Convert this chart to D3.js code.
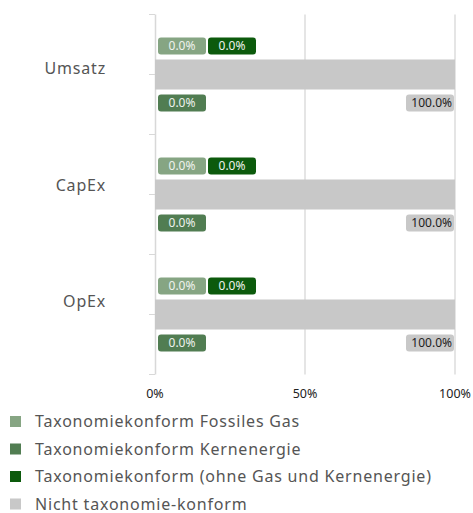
<!DOCTYPE html>
<html>
<head>
<meta charset="utf-8">
<script src="https://cdn.jsdelivr.net/npm/d3@7"></script>
<style>
  body { margin: 0; background: #fff; }
  svg { display: block; font-family: "Noto Sans", "Open Sans", sans-serif; }
</style>
</head>
<body>
<div id="chart"></div>
<script>
var categories = ["Umsatz", "CapEx", "OpEx"];
var fossilGas = [0, 0, 0];
var nuclear = [0, 0, 0];
var aligned = [0, 0, 0];
var notAligned = [100, 100, 100];
var xTicks = [0, 50, 100];
var seriesNames = [
  "Taxonomiekonform Fossiles Gas",
  "Taxonomiekonform Kernenergie",
  "Taxonomiekonform (ohne Gas und Kernenergie)",
  "Nicht taxonomie-konform"
];
var colors = ["#86a583", "#517d52", "#0c5a0c", "#c8c8c8"];

var w = 473, h = 513;
var svg = d3.select('#chart').append('svg').attr('width', w).attr('height', h);

var xScale = d3.scaleLinear().domain([0, 100]).range([155, 455]);
var yScale = d3.scaleBand().domain(categories).range([14.5, 374.5]);
// category labels sit a little above the band centres
var labelScale = d3.scalePoint().domain(categories).range([74, 307]);

// grid lines
svg.append('g').selectAll('line')
  .data(xTicks.slice(1))
  .enter().append('line')
  .attr('x1', function (d) { return xScale(d); })
  .attr('x2', function (d) { return xScale(d); })
  .attr('y1', 14.5).attr('y2', 374.5)
  .attr('stroke', '#dcdcdc').attr('stroke-width', 1.5);

// y axis line and ticks
svg.append('line')
  .attr('x1', 155.5).attr('x2', 155.5).attr('y1', 14.5).attr('y2', 374.5)
  .attr('stroke', '#d8d8d8').attr('stroke-width', 1.5);
var tickYs = [];
categories.forEach(function (c) {
  tickYs.push(yScale(c), yScale(c) + yScale.bandwidth() / 2);
});
tickYs.push(374.5);
svg.append('g').selectAll('line')
  .data(tickYs)
  .enter().append('line')
  .attr('x1', 149).attr('x2', 155)
  .attr('y1', function (d) { return d; }).attr('y2', function (d) { return d; })
  .attr('stroke', '#d8d8d8');

// category labels
svg.append('g').selectAll('text')
  .data(categories)
  .enter().append('text')
  .attr('x', 106)
  .attr('y', function (d) { return labelScale(d); })
  .attr('text-anchor', 'end')
  .attr('fill', '#555')
  .style('font-size', '16px')
  .style('letter-spacing', '0.8px')
  .text(function (d) { return d; });

// x tick labels
svg.append('g').selectAll('text')
  .data(xTicks)
  .enter().append('text')
  .attr('x', function (d) { return xScale(d); })
  .attr('y', 398)
  .attr('text-anchor', 'middle')
  .attr('fill', '#222')
  .style('font-size', '12.5px')
  .text(function (d) { return d + '%'; });

// bars (stacked in one row)
var rows = categories.map(function (c, i) {
  return { cat: c, vals: [fossilGas[i], nuclear[i], aligned[i], notAligned[i]] };
});
var barH = 30;
rows.forEach(function (r) {
  var cy = yScale(r.cat) + yScale.bandwidth() / 2;
  var acc = 0;
  r.vals.forEach(function (v, k) {
    svg.append('rect')
      .attr('x', xScale(acc))
      .attr('y', cy - barH / 2)
      .attr('width', xScale(acc + v) - xScale(acc))
      .attr('height', barH)
      .attr('fill', colors[k]);
    acc += v;
  });

  // data labels
  var boxW = 48, boxH = 17;
  var pos = [
    { x: xScale(0) + 3, y: cy - 37 },
    { x: xScale(0) + 3, y: cy + 20 },
    { x: xScale(0) + 3 + boxW + 2, y: cy - 37 },
    { x: xScale(100) - 1 - boxW, y: cy + 20 }
  ];
  r.vals.forEach(function (v, k) {
    var g = svg.append('g').attr('transform', 'translate(' + pos[k].x + ',' + pos[k].y + ')');
    g.append('rect')
      .attr('width', boxW).attr('height', boxH).attr('rx', 3)
      .attr('fill', colors[k]);
    g.append('text')
      .attr('x', k === 3 ? boxW - 2 : boxW / 2)
      .attr('y', boxH / 2 + 0.5)
      .attr('text-anchor', k === 3 ? 'end' : 'middle')
      .attr('dominant-baseline', 'middle')
      .attr('fill', k === 3 ? '#222' : '#eef2ee')
      .style('font-size', '12px')
      .text(v.toFixed(1) + '%');
  });
});

// legend
var leg = svg.append('g').selectAll('g')
  .data(seriesNames)
  .enter().append('g')
  .attr('transform', function (d, i) { return 'translate(10,' + (416 + i * 27.5) + ')'; });
leg.append('rect')
  .attr('x', 0).attr('y', 0).attr('width', 11).attr('height', 11)
  .attr('fill', function (d, i) { return colors[i]; });
leg.append('text')
  .attr('x', 25).attr('y', 11)
  .attr('fill', '#555')
  .style('font-size', '16px')
  .style('letter-spacing', '0.8px')
  .text(function (d) { return d; });
</script>
</body>
</html>
